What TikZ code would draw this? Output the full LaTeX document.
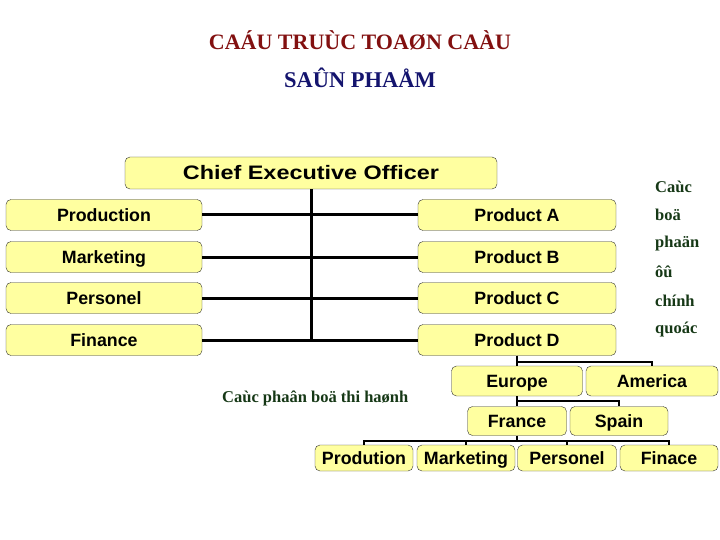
\documentclass[tikz,border=0pt]{standalone}
\usepackage{fontspec}
\setmainfont{Liberation Serif}
\setsansfont{Liberation Sans}
\usetikzlibrary{calc}
\definecolor{boxfill}{RGB}{255,255,160}
\definecolor{titlered}{RGB}{130,16,16}
\definecolor{titleblue}{RGB}{20,20,110}
\definecolor{notegreen}{RGB}{22,56,22}
\begin{document}
\begin{tikzpicture}[x=1pt,y=-1pt,
    box/.style={draw=black!80,fill=boxfill,rounded corners=5pt,inner sep=0pt,
      text height=12.6pt,text depth=0pt,
      font=\sffamily\bfseries\fontsize{17.8}{19}\selectfont},
    link/.style={line width=3pt},
    sublink/.style={line width=2.4pt},
    note/.style={text=notegreen,font=\rmfamily\bfseries\fontsize{16.5}{17}\selectfont,anchor=west,inner sep=0pt}]
  \useasboundingbox (0,0) rectangle (720,540);
  % title
  \node[text=titlered,font=\rmfamily\bfseries\fontsize{22}{24}\selectfont] (t1) at (360,40) {CAÁU TRUÙC TOAØN CAÀU};
  \node[text=titleblue,font=\rmfamily\bfseries\fontsize{22.5}{24}\selectfont] (t2) at (360,78) {SAÛN PHAÅM};
  % main chart
  \node[box,minimum width=372pt,minimum height=32pt,text height=14pt,font=\sffamily\bfseries\fontsize{19.5}{21}\selectfont] (ceo) at (311,173) {\scalebox{1.2}[1]{Chief Executive Officer}};
  \node[box,minimum width=196pt,minimum height=31pt] (prod) at (104,215) {Production};
  \node[box,minimum width=196pt,minimum height=31pt] (mkt) at (104,257) {Marketing};
  \node[box,minimum width=196pt,minimum height=31pt] (pers) at (104,298) {Personel};
  \node[box,minimum width=196pt,minimum height=31pt] (fin) at (104,340) {Finance};
  \node[box,minimum width=198pt,minimum height=31pt] (pa) at (517,215) {Product A};
  \node[box,minimum width=198pt,minimum height=31pt] (pb) at (517,257) {Product B};
  \node[box,minimum width=198pt,minimum height=31pt] (pc) at (517,298) {Product C};
  \node[box,minimum width=198pt,minimum height=31pt] (pd) at (517,340) {Product D};
  \draw[link] (ceo.south) -- (ceo.south |- fin.east);
  \draw[link] (prod.east) -- (pa.west);
  \draw[link] (mkt.east) -- (pb.west);
  \draw[link] (pers.east) -- (pc.west);
  \draw[link] (fin.east) -- (pd.west);
  % regions
  \node[box,minimum width=131pt,minimum height=30pt] (eu) at (517,381) {Europe};
  \node[box,minimum width=132pt,minimum height=30pt] (am) at (652,381) {America};
  \node[box,minimum width=99pt,minimum height=29pt] (fr) at (517,421) {France};
  \node[box,minimum width=98pt,minimum height=29pt] (sp) at (619,421) {Spain};
  \node[box,minimum width=98pt,minimum height=26pt] (b1) at (364,458) {Prodution};
  \node[box,minimum width=98pt,minimum height=26pt] (b2) at (466,458) {Marketing};
  \node[box,minimum width=99pt,minimum height=26pt] (b3) at (567,458) {Personel};
  \node[box,minimum width=98pt,minimum height=26pt] (b4) at (669,458) {Finace};
  \draw[sublink] (pd.south) -- (eu.north);
  \draw[sublink] (pd.south) -- ++(0,6) -| (am.north);
  \draw[sublink] (eu.south) -- (fr.north);
  \draw[sublink] (eu.south) -- ++(0,5) -| (sp.north);
  \coordinate (bus) at ($(fr.south)+(0,5)$);
  \draw[sublink] (fr.south) -- (bus);
  \foreach \n in {b1,b2,b3,b4}
    \draw[sublink] (\n.north) |- (bus);
  % notes
  \node[note] (n1) at (655,187) {Caùc};
  \node[note] (n2) at (655,215) {boä};
  \node[note] (n3) at (655,244) {phaän};
  \node[note] (n4) at (655,272) {ôû};
  \node[note] (n5) at (655,301) {chính};
  \node[note] (n6) at (655,330) {quoác};
  \node[note] (n7) at (222,398) {Caùc phaân boä thi haønh};
\end{tikzpicture}
\end{document}
